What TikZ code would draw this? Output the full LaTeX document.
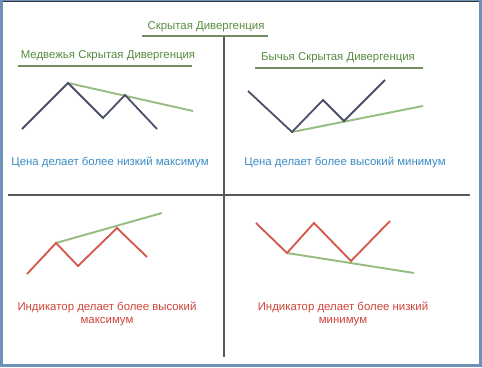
\documentclass[tikz,border=0pt]{standalone}
\usepackage{fontspec}
\setmainfont{Liberation Sans}
\usetikzlibrary{positioning}
\definecolor{titlegreen}{RGB}{88,140,64}
\definecolor{linegreen}{RGB}{150,188,128}
\definecolor{pricedark}{RGB}{76,80,108}
\definecolor{indred}{RGB}{214,84,72}
\definecolor{textblue}{RGB}{58,140,196}
\definecolor{textred}{RGB}{206,68,58}
\definecolor{frameblue}{RGB}{110,145,185}
\tikzset{
	lbl/.style={inner sep=1pt,align=center,font=\fontsize{11.4}{13.5}\selectfont},
	head/.style={lbl,text=titlegreen},
	price/.style={lbl,text=textblue},
	ind/.style={lbl,text=textred},
	axis/.style={draw=black!65,line width=2pt},
	underline/.style={draw=linegreen!75!black,line width=2pt},
	pline/.style={draw=pricedark,line width=1.8pt,line join=miter},
	rline/.style={draw=indred,line width=1.8pt,line join=miter},
	gline/.style={draw=linegreen,line width=1.9pt}
}

\begin{document}
\begin{tikzpicture}[x=1pt,y=-1pt]
			\fill[frameblue] (0,0) rectangle (482,367);
			\fill[white] (2.5,1.5) rectangle (479,363.5);
			\draw[black!80,line width=1pt] (2.5,1.5) -- (479,1.5);
			\useasboundingbox (0,0) rectangle (482,367);
			
			\node[head] (title) at (206,27) {Скрытая Дивергенция};
			\node[head] (bear) at (108,56) {Медвежья Скрытая Дивергенция};
			\node[head] (bull) at (338,58) {Бычья Скрытая Дивергенция};
			\node[price] (bearnote) at (110,162) {Цена делает более низкий максимум};
			\node[price] (bullnote) at (345,162) {Цена делает более высокий минимум};
			\node[ind] (highnote) at (107,314) {Индикатор делает более высокий\\максимум};
			\node[ind] (lownote) at (343,314) {Индикатор делает более низкий\\минимум};
			
			\coordinate (top) at (224,36);
			\coordinate (bottom) at (224,357);
			\coordinate (left) at (8,194.5);
			\coordinate (right) at (470,194.5);
			\draw[axis] (top) -- (bottom);
			\draw[axis] (left) -- (right);
			
			\draw[underline] (142,36) -- (268,36);
			\draw[underline] (18,66) -- (192,66);
			\draw[underline] (255,68) -- (423,68);
			
			\coordinate (a1) at (22,129);
			\coordinate (a2) at (68,83);
			\coordinate (a3) at (103,118);
			\coordinate (a4) at (125,95);
			\coordinate (a5) at (157,129);
			\coordinate (a6) at (193,111);
			\draw[gline] (a2) -- (a6);
			\draw[pline] (a1) -- (a2) -- (a3) -- (a4) -- (a5);
			
			\coordinate (b1) at (248,91);
			\coordinate (b2) at (292,132);
			\coordinate (b3) at (323,100);
			\coordinate (b4) at (344,121);
			\coordinate (b5) at (385,80);
			\coordinate (b6) at (423,106);
			\draw[gline] (b2) -- (b6);
			\draw[pline] (b1) -- (b2) -- (b3) -- (b4) -- (b5);
			
			\coordinate (c1) at (27,274);
			\coordinate (c2) at (56,243);
			\coordinate (c3) at (78,266);
			\coordinate (c4) at (117,228);
			\coordinate (c5) at (147,257);
			\coordinate (c6) at (162,213);
			\draw[gline] (c2) -- (c6);
			\draw[rline] (c1) -- (c2) -- (c3) -- (c4) -- (c5);
			
			\coordinate (d1) at (256,223);
			\coordinate (d2) at (287,253);
			\coordinate (d3) at (314,223);
			\coordinate (d4) at (351,261);
			\coordinate (d5) at (390,221);
			\coordinate (d6) at (414,273);
			\draw[gline] (d2) -- (d6);
			\draw[rline] (d1) -- (d2) -- (d3) -- (d4) -- (d5);
		\end{tikzpicture}
\end{document}
